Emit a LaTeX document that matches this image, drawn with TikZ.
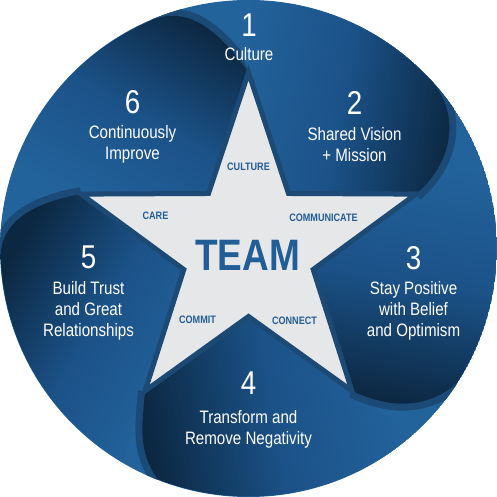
\documentclass[tikz,border=0pt]{standalone}
\usepackage{fontspec}
\setmainfont{Liberation Sans}[FakeStretch=0.84]
\usepackage{tikz}
\usetikzlibrary{positioning,calc}

\definecolor{teamblue}{HTML}{23639C}
\definecolor{teammid}{HTML}{1B5288}
\definecolor{teamdark}{HTML}{0C2741}
\definecolor{teamshade}{HTML}{1B4A77}
\definecolor{teamstar}{HTML}{E6E7E9}
\definecolor{teamline}{HTML}{1C4A75}
\definecolor{teamword}{HTML}{215D96}

% the five curled blades between the arms of the star
\newcommand{\petalB}{(t0) -- (95.4:248) arc[start angle=95.4,end angle=43,radius=248] to[out=-47,in=40,looseness=1.05] (t1) -- (v0) -- cycle}
\newcommand{\petalC}{(t1) -- (23.4:248) arc[start angle=23.4,end angle=-33,radius=248] to[out=-140,in=-25] (t2) -- (v1) -- cycle}
\newcommand{\petalD}{(t2) -- (-48.6:248) arc[start angle=-48.6,end angle=-111.5,radius=248] to[out=125,in=-95] (t3) -- (v2) -- cycle}
\newcommand{\petalE}{(t3) -- (239.6:248) arc[start angle=239.6,end angle=182,radius=248] to[out=90,in=190] (t4) -- (v3) -- cycle}
\newcommand{\petalF}{(t4) .. controls (-215,54) .. (171:248) arc[start angle=171,end angle=113,radius=248] to[out=23,in=125] (t0) -- (v4) -- cycle}

\begin{document}
\begin{tikzpicture}[x=1pt,y=1pt,node distance=42pt]
	\tikzstyle{num}=[text=white,font=\fontsize{33}{33}\selectfont,inner sep=0pt]
	\tikzstyle{lbl}=[text=white,font=\fontsize{18}{21}\selectfont,align=center,inner sep=0pt]
	\tikzstyle{word}=[text=teamword,font=\bfseries\fontsize{10.8}{12}\selectfont,inner sep=0pt]
	\tikzstyle{petal}=[top color=teamblue,bottom color=teamdark,middle color=teammid]
	\tikzstyle{hookshade}=[draw=teamshade,line width=14pt]
	\tikzstyle{starbody}=[fill=teamstar,draw=teamline,line width=5pt,line join=miter]

	\useasboundingbox (-248.5,-248.5) rectangle (248.5,248.5);

	\coordinate (t0) at (90:176);
	\coordinate (v0) at (54:68);
	\coordinate (t1) at (18:176);
	\coordinate (v1) at (-18:68);
	\coordinate (t2) at (-54:176);
	\coordinate (v2) at (-90:68);
	\coordinate (t3) at (-126:176);
	\coordinate (v3) at (-162:68);
	\coordinate (t4) at (162:176);
	\coordinate (v4) at (126:68);

	\begin{scope}
		\clip (0,0) circle (248.5);
		\fill[teamblue] (0,0) circle (248.5);

		\shade[petal,shading angle=80] \petalB;

		\draw[hookshade] (113:248) to[out=23,in=125] (t0);
		\shade[petal,shading angle=150] \petalF;

		\draw[hookshade] (182:248) to[out=90,in=190] (t4);
		\shade[petal,shading angle=-120] \petalE;

		\draw[hookshade] (-111.5:248) to[out=125,in=-95] (t3);
		\shade[petal,shading angle=-80] \petalD;

		\draw[hookshade] (-33:248) to[out=-140,in=-25] (t2);
		\shade[petal,shading angle=-10] \petalC;

		\draw[hookshade] (43:248) to[out=-47,in=40,looseness=1.05] (t1);
		\shade[petal,shading angle=80] \petalB;
	\end{scope}

	\draw[starbody] (t0) -- (v0) -- (t1) -- (v1) -- (t2) -- (v2) -- (t3) -- (v3) -- (t4) -- (v4) -- cycle;

	\node[text=teamword,font=\bfseries\fontsize{44}{44}\selectfont,inner sep=0pt] (team) at (-1,-7) {TEAM};
	\node[word] (w1) at (0,82) {CULTURE};
	\node[word] (w2) at (75,31) {COMMUNICATE};
	\node[word] (w3) at (46,-72) {CONNECT};
	\node[word] (w4) at (-51,-71) {COMMIT};
	\node[word] (w5) at (-93,33) {CARE};

	\node[num] (n1) at (0.5,223) {1};
	\node[lbl] (l1) [below of=n1,node distance=29pt] {Culture};
	\node[num] (n2) at (106,146) {2};
	\node[lbl] (l2) [below of=n2] {Shared Vision\\+ Mission};
	\node[num] (n3) at (165,-10) {3};
	\node[lbl] (l3) [below of=n3,node distance=52pt] {Stay Positive\\with Belief\\and Optimism};
	\node[num] (n4) at (0,-135) {4};
	\node[lbl] (l4) [below of=n4,node distance=46pt] {Transform and\\Remove Negativity};
	\node[num] (n5) at (-160,-9) {5};
	\node[lbl] (l5) [below of=n5,node distance=53pt] {Build Trust\\and Great\\Relationships};
	\node[num] (n6) at (-116,146) {6};
	\node[lbl] (l6) [below of=n6] {Continuously\\Improve};
\end{tikzpicture}
\end{document}
